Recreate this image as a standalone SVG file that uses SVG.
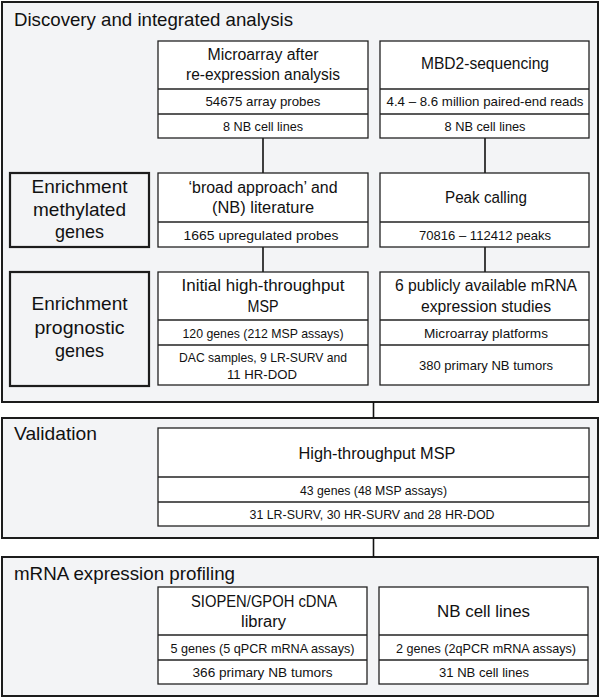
<svg xmlns="http://www.w3.org/2000/svg" width="600" height="698" viewBox="0 0 600 698">
<style>
.bg{fill:#ffffff}
.panel{fill:#f3f4f6;stroke:#1c1c1c;stroke-width:2}
.box{fill:#ffffff;stroke:#222;stroke-width:1.3}
.lbl{fill:#f3f4f6;stroke:#1c1c1c;stroke-width:2.2}
.dv{stroke:#222;stroke-width:1.3}
.conn{stroke:#111;stroke-width:1.6;fill:none}
text{font-family:"Liberation Sans",Arial,sans-serif;fill:#111}
.ti{font-size:18.5px}
.lt{font-size:18.5px;text-anchor:middle}
.hd{font-size:16px;text-anchor:middle}
.rw{font-size:13.5px;text-anchor:middle}
</style>
<rect class="bg" x="0" y="0" width="600" height="698"/>

<g id="panel-discovery">
<rect class="panel" x="2" y="2" width="596" height="400"/>
<text class="ti" x="14" y="26" textLength="279" lengthAdjust="spacingAndGlyphs">Discovery and integrated analysis</text>
</g>
<g id="panel-validation">
<rect class="panel" x="2" y="418" width="596" height="120"/>
<text class="ti" x="14" y="440" textLength="83" lengthAdjust="spacingAndGlyphs">Validation</text>
</g>
<g id="panel-mrna">
<rect class="panel" x="2" y="557" width="596" height="139"/>
<text class="ti" x="14" y="580" textLength="221" lengthAdjust="spacingAndGlyphs">mRNA expression profiling</text>
</g>

<g id="connectors">
<line class="conn" x1="263" y1="138" x2="263" y2="173"/>
<line class="conn" x1="263" y1="247" x2="263" y2="272"/>
<line class="conn" x1="485" y1="138" x2="485" y2="173"/>
<line class="conn" x1="485" y1="247" x2="485" y2="272"/>
<line class="conn" x1="373.5" y1="402" x2="373.5" y2="418"/>
<line class="conn" x1="373.5" y1="538" x2="373.5" y2="557"/>
</g>

<g id="n-microarray">
<rect class="box" x="158" y="41" width="210" height="97"/>
<line class="dv" x1="158" y1="89" x2="368" y2="89"/>
<line class="dv" x1="158" y1="114" x2="368" y2="114"/>
<text class="hd" x="263" y="60" textLength="111" lengthAdjust="spacingAndGlyphs">Microarray after</text>
<text class="hd" x="263" y="80" textLength="154" lengthAdjust="spacingAndGlyphs">re-expression analysis</text>
<text class="rw" x="263" y="106" textLength="115" lengthAdjust="spacingAndGlyphs">54675 array probes</text>
<text class="rw" x="263" y="130.5" textLength="80" lengthAdjust="spacingAndGlyphs">8 NB cell lines</text>
</g>

<g id="n-mbd2">
<rect class="box" x="380" y="41" width="209" height="97"/>
<line class="dv" x1="380" y1="89" x2="589" y2="89"/>
<line class="dv" x1="380" y1="114" x2="589" y2="114"/>
<text class="hd" x="485" y="69" textLength="128" lengthAdjust="spacingAndGlyphs">MBD2-sequencing</text>
<text class="rw" x="485" y="106" textLength="197" lengthAdjust="spacingAndGlyphs">4.4 – 8.6 million paired-end reads</text>
<text class="rw" x="485" y="130.5" textLength="81" lengthAdjust="spacingAndGlyphs">8 NB cell lines</text>
</g>

<g id="n-enrich-methylated">
<rect class="lbl" x="10" y="173" width="139" height="74"/>
<text class="lt" x="79.5" y="193" textLength="96" lengthAdjust="spacingAndGlyphs">Enrichment</text>
<text class="lt" x="79.5" y="216" textLength="93" lengthAdjust="spacingAndGlyphs">methylated</text>
<text class="lt" x="79.5" y="238" textLength="49" lengthAdjust="spacingAndGlyphs">genes</text>
</g>

<g id="n-broad">
<rect class="box" x="158" y="173" width="210" height="74"/>
<line class="dv" x1="158" y1="222" x2="368" y2="222"/>
<text class="hd" x="263" y="193" textLength="149" lengthAdjust="spacingAndGlyphs">‘broad approach’ and</text>
<text class="hd" x="263" y="213" textLength="102" lengthAdjust="spacingAndGlyphs">(NB) literature</text>
<text class="rw" x="261" y="239.5" textLength="155" lengthAdjust="spacingAndGlyphs">1665 upregulated probes</text>
</g>

<g id="n-peak">
<rect class="box" x="380" y="173" width="209" height="74"/>
<line class="dv" x1="380" y1="222" x2="589" y2="222"/>
<text class="hd" x="486" y="203" textLength="82" lengthAdjust="spacingAndGlyphs">Peak calling</text>
<text class="rw" x="485" y="239.5" textLength="132" lengthAdjust="spacingAndGlyphs">70816 – 112412 peaks</text>
</g>

<g id="n-enrich-prognostic">
<rect class="lbl" x="10" y="272" width="139" height="114"/>
<text class="lt" x="79.5" y="310" textLength="96" lengthAdjust="spacingAndGlyphs">Enrichment</text>
<text class="lt" x="79.5" y="333.5" textLength="90" lengthAdjust="spacingAndGlyphs">prognostic</text>
<text class="lt" x="79.5" y="357" textLength="49" lengthAdjust="spacingAndGlyphs">genes</text>
</g>

<g id="n-initial-msp">
<rect class="box" x="158" y="272" width="210" height="113"/>
<line class="dv" x1="158" y1="320" x2="368" y2="320"/>
<line class="dv" x1="158" y1="345" x2="368" y2="345"/>
<text class="hd" x="263" y="291" textLength="163" lengthAdjust="spacingAndGlyphs">Initial high-throughput</text>
<text class="hd" x="263" y="312" textLength="31" lengthAdjust="spacingAndGlyphs">MSP</text>
<text class="rw" x="263" y="337.5" textLength="161" lengthAdjust="spacingAndGlyphs">120 genes (212 MSP assays)</text>
<text class="rw" x="263" y="362" textLength="168" lengthAdjust="spacingAndGlyphs">DAC samples, 9 LR-SURV and</text>
<text class="rw" x="262" y="379" textLength="70" lengthAdjust="spacingAndGlyphs">11 HR-DOD</text>
</g>

<g id="n-public">
<rect class="box" x="380" y="272" width="209" height="113"/>
<line class="dv" x1="380" y1="320" x2="589" y2="320"/>
<line class="dv" x1="380" y1="345" x2="589" y2="345"/>
<text class="hd" x="486" y="291" textLength="182" lengthAdjust="spacingAndGlyphs">6 publicly available mRNA</text>
<text class="hd" x="486" y="312" textLength="130" lengthAdjust="spacingAndGlyphs">expression studies</text>
<text class="rw" x="486" y="337.5" textLength="124" lengthAdjust="spacingAndGlyphs">Microarray platforms</text>
<text class="rw" x="486" y="369.5" textLength="134" lengthAdjust="spacingAndGlyphs">380 primary NB tumors</text>
</g>

<g id="n-validation-msp">
<rect class="box" x="158" y="428" width="431" height="98"/>
<line class="dv" x1="158" y1="477" x2="589" y2="477"/>
<line class="dv" x1="158" y1="502" x2="589" y2="502"/>
<text class="hd" x="377" y="458.5" textLength="157" lengthAdjust="spacingAndGlyphs">High-throughput MSP</text>
<text class="rw" x="373.5" y="494.5" textLength="147" lengthAdjust="spacingAndGlyphs">43 genes (48 MSP assays)</text>
<text class="rw" x="372" y="519" textLength="245" lengthAdjust="spacingAndGlyphs">31 LR-SURV, 30 HR-SURV and 28 HR-DOD</text>
</g>

<g id="n-siopen">
<rect class="box" x="158" y="587" width="209" height="97"/>
<line class="dv" x1="158" y1="635" x2="367" y2="635"/>
<line class="dv" x1="158" y1="660" x2="367" y2="660"/>
<text class="hd" x="264" y="607" textLength="146" lengthAdjust="spacingAndGlyphs">SIOPEN/GPOH cDNA</text>
<text class="hd" x="263.5" y="627" textLength="45" lengthAdjust="spacingAndGlyphs">library</text>
<text class="rw" x="262.5" y="652.5" textLength="184" lengthAdjust="spacingAndGlyphs">5 genes (5 qPCR mRNA assays)</text>
<text class="rw" x="262.5" y="677" textLength="140" lengthAdjust="spacingAndGlyphs">366 primary NB tumors</text>
</g>

<g id="n-nbcells">
<rect class="box" x="379" y="587" width="209" height="97"/>
<line class="dv" x1="379" y1="635" x2="588" y2="635"/>
<line class="dv" x1="379" y1="660" x2="588" y2="660"/>
<text class="hd" x="483.5" y="617" textLength="93" lengthAdjust="spacingAndGlyphs">NB cell lines</text>
<text class="rw" x="486" y="652.5" textLength="180" lengthAdjust="spacingAndGlyphs">2 genes (2qPCR  mRNA assays)</text>
<text class="rw" x="484" y="677" textLength="90" lengthAdjust="spacingAndGlyphs">31 NB cell lines</text>
</g>
</svg>
